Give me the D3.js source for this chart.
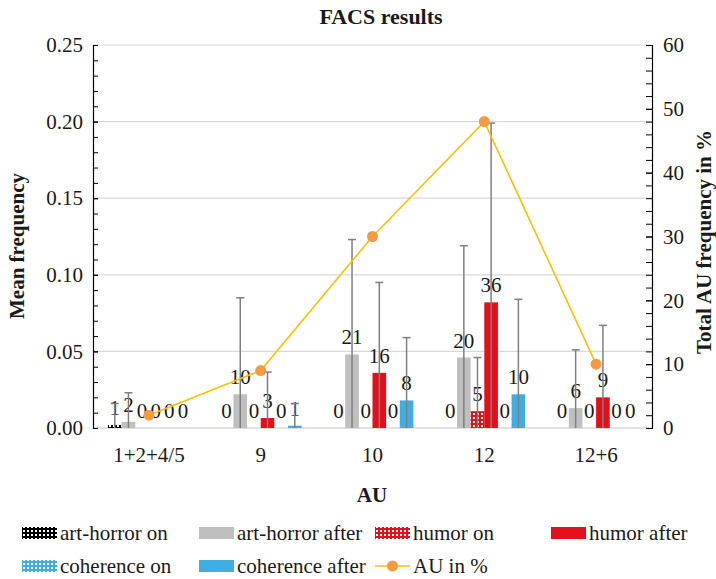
<!DOCTYPE html>
<html>
<head>
<meta charset="utf-8">
<script src="https://cdn.jsdelivr.net/npm/d3@7"></script>
<style>
  body { margin: 0; background: #fff; }
  svg text { font-family: "Liberation Serif", "DejaVu Serif", serif !important; fill: #1a1a1a; }
</style>
</head>
<body>
<div id="chart-area"></div>
<script>
let width = 716,
height = 579;

margin = ({top: 45, right: 64, bottom: 151, left: 93});

const serif = "'Liberation Serif', 'DejaVu Serif', serif";

// data
const categories = ["1+2+4/5", "9", "10", "12", "12+6"];
const seriesNames = ["art-horror on", "art-horror after", "humor on", "humor after", "coherence on", "coherence after"];

const artHorrorOn = [0.002, 0, 0, 0, 0];
const artHorrorAfter = [0.004, 0.022, 0.048, 0.046, 0.013];
const humorOn = [0, 0, 0, 0.011, 0];
const humorAfter = [0, 0.0065, 0.036, 0.082, 0.020];
const coherenceOn = [0, 0, 0, 0, 0];
const coherenceAfter = [0, 0.0015, 0.018, 0.022, 0];

// standard deviations (error bars)
const artHorrorOnSd = [0.014, 0, 0, 0, 0];
const artHorrorAfterSd = [0.019, 0.063, 0.075, 0.073, 0.038];
const humorOnSd = [0, 0, 0, 0.035, 0];
const humorAfterSd = [0, 0.030, 0.059, 0.117, 0.047];
const coherenceOnSd = [0, 0, 0, 0, 0];
const coherenceAfterSd = [0, 0.0145, 0.041, 0.062, 0];

// counts shown above the bars
const artHorrorOnN = [1, 0, 0, 0, 0];
const artHorrorAfterN = [2, 10, 21, 20, 6];
const humorOnN = [0, 0, 0, 5, 0];
const humorAfterN = [0, 3, 16, 36, 9];
const coherenceOnN = [0, 0, 0, 0, 0];
const coherenceAfterN = [0, 1, 8, 10, 0];

const auPercent = [2, 9, 30, 48, 10];

const leftTicks = [0, 0.05, 0.10, 0.15, 0.20, 0.25];
const rightTicks = [0, 10, 20, 30, 40, 50, 60];

const means = [artHorrorOn, artHorrorAfter, humorOn, humorAfter, coherenceOn, coherenceAfter];
const sds = [artHorrorOnSd, artHorrorAfterSd, humorOnSd, humorAfterSd, coherenceOnSd, coherenceAfterSd];
const counts = [artHorrorOnN, artHorrorAfterN, humorOnN, humorAfterN, coherenceOnN, coherenceAfterN];
const fills = ["url(#dots-black)", "#BFBFBF", "url(#dots-red)", "#E3101B", "url(#dots-blue)", "#3FAEE3"];

const rows = [];
categories.forEach((c, i) => {
  seriesNames.forEach((s, j) => {
    rows.push({cat: c, series: s, j: j, v: means[j][i], sd: sds[j][i], n: counts[j][i]});
  });
});

const svg = d3
  .select("#chart-area")
  .append("svg")
  .attr("width", width)
  .attr("height", height)
  .style("font-family", serif);

// patterns for the "on" series
const defs = svg.append("defs");
[["dots-black", "#000000"], ["dots-red", "#E3101B"], ["dots-blue", "#3FAEE3"]].forEach(p => {
  const pat = defs.append("pattern")
    .attr("id", p[0])
    .attr("width", 4)
    .attr("height", 4)
    .attr("patternUnits", "userSpaceOnUse");
  pat.append("rect").attr("width", 4).attr("height", 4).attr("fill", p[1]);
  pat.append("rect").attr("x", 1).attr("y", 1).attr("width", 2).attr("height", 2).attr("fill", "#fff");
});

const x = d3.scaleBand()
  .domain(categories)
  .range([margin.left, width - margin.right]);

const xi = d3.scaleBand()
  .domain(d3.range(seriesNames.length))
  .range([0, x.bandwidth()])
  .paddingOuter(1.1);

const y = d3.scaleLinear()
  .domain([0, 0.25])
  .range([height - margin.bottom, margin.top]);

const y2 = d3.scaleLinear()
  .domain([0, 60])
  .range([height - margin.bottom, margin.top]);

// gridlines
svg.append("g")
  .selectAll("line")
  .data(leftTicks.slice(1))
  .join("line")
  .attr("x1", margin.left)
  .attr("x2", width - margin.right)
  .attr("y1", d => y(d))
  .attr("y2", d => y(d))
  .attr("stroke", "#D9D9D9")
  .attr("stroke-width", 1.2);

// baseline
svg.append("line")
  .attr("x1", margin.left)
  .attr("x2", width - margin.right)
  .attr("y1", y(0))
  .attr("y2", y(0))
  .attr("stroke", "#D9D9D9")
  .attr("stroke-width", 1.5);

// bars
svg.append("g")
  .selectAll("rect")
  .data(rows)
  .join("rect")
  .attr("x", d => x(d.cat) + xi(d.j))
  .attr("y", d => y(d.v))
  .attr("width", xi.bandwidth())
  .attr("height", d => y(0) - y(d.v))
  .attr("fill", d => fills[d.j]);

// count labels
svg.append("g")
  .selectAll("text")
  .data(rows)
  .join("text")
  .attr("x", d => x(d.cat) + xi(d.j) + xi.bandwidth() / 2)
  .attr("y", d => y(d.v) - 10)
  .attr("text-anchor", "middle")
  .attr("font-size", 21)
  .style("font-family", serif)
  .text(d => d.n);

// error bars
const errs = svg.append("g")
  .selectAll("g")
  .data(rows.filter(d => d.sd > 0))
  .join("g")
  .attr("stroke", "#7F7F7F")
  .attr("stroke-width", 1.5);
errs.append("line")
  .attr("x1", d => x(d.cat) + xi(d.j) + xi.bandwidth() / 2)
  .attr("x2", d => x(d.cat) + xi(d.j) + xi.bandwidth() / 2)
  .attr("y1", d => y(Math.max(0, d.v - d.sd)))
  .attr("y2", d => y(d.v + d.sd));
errs.append("line")
  .attr("x1", d => x(d.cat) + xi(d.j) + xi.bandwidth() / 2 - 4)
  .attr("x2", d => x(d.cat) + xi(d.j) + xi.bandwidth() / 2 + 4)
  .attr("y1", d => y(d.v + d.sd))
  .attr("y2", d => y(d.v + d.sd));

// AU in % line
const line = d3.line()
  .x((d, i) => x(categories[i]) + x.bandwidth() / 2)
  .y(d => y2(d));

svg.append("path")
  .datum(auPercent)
  .attr("fill", "none")
  .attr("stroke", "#FFC000")
  .attr("stroke-width", 1.6)
  .attr("d", line);

svg.append("g")
  .selectAll("circle")
  .data(auPercent)
  .join("circle")
  .attr("cx", (d, i) => x(categories[i]) + x.bandwidth() / 2)
  .attr("cy", d => y2(d))
  .attr("r", 5.5)
  .attr("fill", "#F39B42");

// left axis
yAxis = g => g
  .attr("transform", `translate(${margin.left},0)`)
  .call(d3.axisLeft(y).tickValues(leftTicks).tickFormat(d3.format(".2f")).tickSize(-5).tickPadding(10))
  .attr("font-family", serif)
  .call(g => g.selectAll(".tick text").attr("font-size", 21).style("font-family", serif))
  .call(g => g.select(".domain").attr("stroke", "#000").attr("stroke-width", 1.2));
svg.append("g").call(yAxis);
svg.append("g")
  .attr("transform", `translate(${margin.left},0)`)
  .call(d3.axisLeft(y).ticks(25).tickFormat("").tickSize(-5))
  .call(g => g.select(".domain").remove());

// right axis
y2Axis = g => g
  .attr("transform", `translate(${width - margin.right},0)`)
  .call(d3.axisRight(y2).tickValues(rightTicks).tickSize(-6).tickPadding(11))
  .attr("font-family", serif)
  .call(g => g.selectAll(".tick text").attr("font-size", 21).style("font-family", serif))
  .call(g => g.select(".domain").attr("stroke", "#000").attr("stroke-width", 1.2));
svg.append("g").call(y2Axis);
svg.append("g")
  .attr("transform", `translate(${width - margin.right},0)`)
  .call(d3.axisRight(y2).ticks(30).tickFormat("").tickSize(-6))
  .call(g => g.select(".domain").remove());

// x axis labels
xAxis = g => g
  .attr("transform", `translate(0,${height - margin.bottom})`)
  .call(d3.axisBottom(x).tickSize(0).tickPadding(19))
  .attr("font-family", serif)
  .call(g => g.select(".domain").remove())
  .call(g => g.selectAll(".tick text").attr("font-size", 21).style("font-family", serif));
svg.append("g").call(xAxis);

// titles
svg.append("text")
  .attr("x", 381)
  .attr("y", 24)
  .attr("text-anchor", "middle")
  .attr("font-size", 22)
  .attr("font-weight", "bold")
  .style("font-family", serif)
  .text("FACS results");

svg.append("text")
  .attr("x", 372)
  .attr("y", 502)
  .attr("text-anchor", "middle")
  .attr("font-size", 21)
  .attr("font-weight", "bold")
  .style("font-family", serif)
  .text("AU");

svg.append("text")
  .attr("transform", "translate(24,246) rotate(-90)")
  .attr("text-anchor", "middle")
  .attr("font-size", 21)
  .attr("font-weight", "bold")
  .style("font-family", serif)
  .text("Mean frequency");

svg.append("text")
  .attr("transform", "translate(711,242) rotate(-90)")
  .attr("text-anchor", "middle")
  .attr("font-size", 21)
  .attr("font-weight", "bold")
  .style("font-family", serif)
  .text("Total AU frequency in %");

// legend
const legendItems = seriesNames.concat(["AU in %"]);
const colX = [22, 199, 375, 551];
const rowY = [533, 566];
const legend = svg.append("g")
  .selectAll("g")
  .data(legendItems)
  .join("g")
  .attr("transform", (d, i) => {
    const r = i < 4 ? 0 : 1;
    const c = i < 4 ? i : i - 4;
    return `translate(${colX[c]},${rowY[r]})`;
  });

legend.filter((d, i) => i < seriesNames.length)
  .append("rect")
  .attr("x", 0)
  .attr("y", -6)
  .attr("width", 35)
  .attr("height", 12)
  .attr("fill", (d, i) => fills[i]);

const lg = legend.filter((d, i) => i === seriesNames.length);
lg.append("line")
  .attr("x1", 0).attr("x2", 35)
  .attr("stroke", "#FFC000")
  .attr("stroke-width", 1.6);
lg.append("circle")
  .attr("cx", 17.5)
  .attr("r", 5.5)
  .attr("fill", "#F39B42");

legend.append("text")
  .attr("x", 38)
  .attr("y", 7)
  .attr("font-size", 21)
  .style("font-family", serif)
  .text(d => d);
</script>
</body>
</html>
